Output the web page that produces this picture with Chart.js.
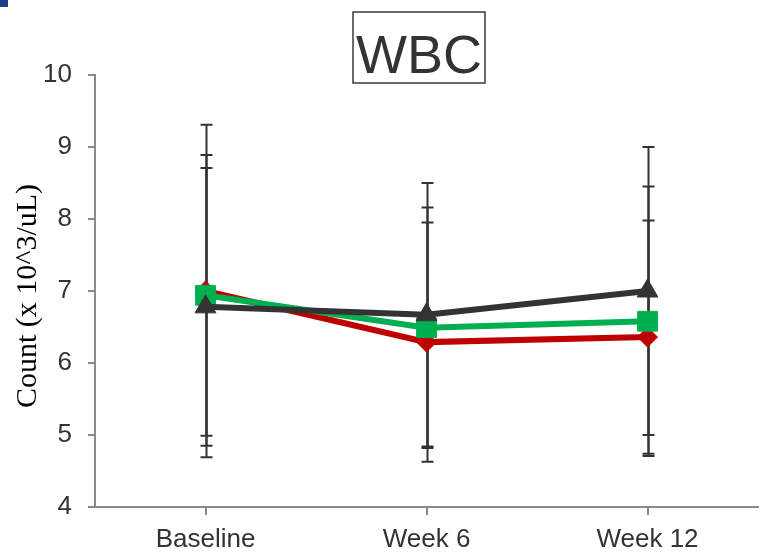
<!DOCTYPE html>
<html>
<head>
<meta charset="utf-8">
<script src="https://cdn.jsdelivr.net/npm/chart.js@4"></script>
<style>
  body { margin: 0; background: #fff; }
  #canto { position: absolute; left: 0; top: 0; width: 8px; height: 7px; background: #1d3d8f; }
</style>
</head>
<body>
<div id="canto"></div>
<canvas id="grafico" width="760" height="556"></canvas>
<script>
// Dados
const categorias = ['Baseline', 'Week 6', 'Week 12'];
const mediasVermelho = [7.00, 6.29, 6.36];
const errosVermelho = [2.31, 1.66, 1.62];
const mediasVerde = [6.94, 6.49, 6.58];
const errosVerde = [1.95, 1.67, 1.87];
const mediasPreto = [6.78, 6.67, 7.00];
const errosPreto = [1.93, 1.83, 2.00];
const ticksY = [4, 5, 6, 7, 8, 9, 10];

const corEixo = '#898989';
const corTexto = '#333333';

// Barras de erro desenhadas abaixo das linhas
const barrasErro = {
  id: 'barrasErro',
  beforeDatasetsDraw(chart) {
    const ctx = chart.ctx;
    const x = chart.scales.x;
    const y = chart.scales.y;
    ctx.save();
    ctx.strokeStyle = '#333333';
    ctx.lineWidth = 2;
    chart.data.datasets.forEach(ds => {
      ds.erros.forEach((e, i) => {
        const px = Math.round(x.getPixelForValue(i)) + 0.5;
        const topo = y.getPixelForValue(ds.data[i] + e);
        const base = y.getPixelForValue(ds.data[i] - e);
        ctx.beginPath();
        ctx.moveTo(px, topo);
        ctx.lineTo(px, base);
        ctx.moveTo(px - 6, topo);
        ctx.lineTo(px + 6, topo);
        ctx.moveTo(px - 6, base);
        ctx.lineTo(px + 6, base);
        ctx.stroke();
      });
    });
    ctx.restore();
  }
};

// Título com caixa e título do eixo Y em fonte serifada
const textos = {
  id: 'textos',
  afterDraw(chart) {
    const ctx = chart.ctx;
    ctx.save();
    ctx.fillStyle = corTexto;
    ctx.font = '54px "Liberation Sans", Arial, sans-serif';
    ctx.textAlign = 'center';
    ctx.textBaseline = 'alphabetic';
    ctx.fillText('WBC', 419, 73);
    ctx.strokeStyle = '#3a3a3a';
    ctx.lineWidth = 1.5;
    ctx.strokeRect(353, 12, 132, 71);

    ctx.translate(28, 296);
    ctx.rotate(-Math.PI / 2);
    ctx.fillStyle = '#000';
    ctx.font = '30px "Liberation Serif", "Times New Roman", serif';
    ctx.textBaseline = 'middle';
    ctx.fillText('Count (x 10^3/uL)', 0, 0);
    ctx.restore();
  }
};

new Chart(document.getElementById('grafico'), {
  type: 'line',
  data: {
    labels: categorias,
    datasets: [{
      data: mediasVermelho,
      erros: errosVermelho,
      borderColor: '#c00000',
      backgroundColor: '#c00000',
      borderWidth: 6,
      pointStyle: 'rectRot',
      pointRadius: 10,
      pointBorderWidth: 1,
      order: 2
    }, {
      data: mediasVerde,
      erros: errosVerde,
      borderColor: '#00b050',
      backgroundColor: '#00b050',
      borderWidth: 6,
      pointStyle: 'rect',
      pointRadius: 14,
      pointBorderWidth: 1,
      order: 1
    }, {
      data: mediasPreto,
      erros: errosPreto,
      borderColor: '#333333',
      backgroundColor: '#333333',
      borderWidth: 6,
      pointStyle: 'triangle',
      pointRadius: 12,
      pointBorderWidth: 1,
      order: 0
    }]
  },
  options: {
    responsive: false,
    animation: false,
    events: [],
    layout: { autoPadding: false, padding: { left: 0, top: 75, right: 2, bottom: 0 } },
    plugins: {
      legend: { display: false },
      tooltip: { enabled: false }
    },
    elements: { line: { tension: 0 } },
    scales: {
      x: {
        offset: true,
        afterFit: s => { s.height = 49; s.paddingLeft = 0; s.paddingRight = 0; },
        grid: { drawOnChartArea: false, drawTicks: true, tickLength: 8, color: corEixo, lineWidth: 2 },
        border: { color: corEixo, width: 2 },
        ticks: {
          color: corTexto,
          padding: 9,
          font: { family: '"Liberation Sans", Arial, sans-serif', size: 26 }
        }
      },
      y: {
        min: 4,
        max: 10,
        afterFit: s => { s.width = 95; },
        afterBuildTicks: s => { s.ticks = ticksY.map(v => ({ value: v })); },
        grid: { drawOnChartArea: false, drawTicks: true, tickLength: 7, color: corEixo, lineWidth: 2 },
        border: { color: corEixo, width: 2 },
        ticks: {
          color: corTexto,
          padding: 16,
          font: { family: '"Liberation Sans", Arial, sans-serif', size: 26 }
        }
      }
    }
  },
  plugins: [barrasErro, textos]
});
</script>
</body>
</html>
